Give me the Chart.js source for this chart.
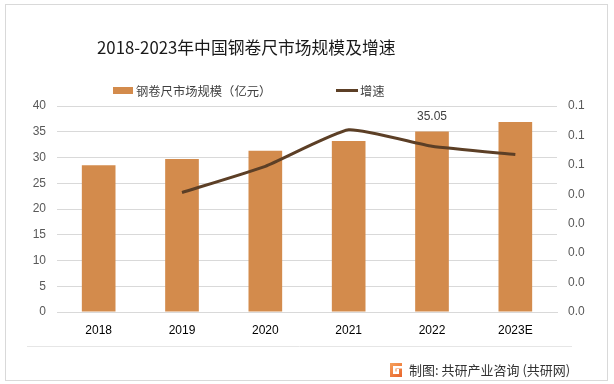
<!DOCTYPE html>
<html>
<head>
<meta charset="utf-8">
<script src="https://cdn.jsdelivr.net/npm/chart.js@4.4.1/dist/chart.umd.min.js"></script>
<style>
html,body{margin:0;padding:0;background:#fff;}
#wrap{position:relative;width:614px;height:384px;}
</style>
</head>
<body>
<div id="wrap"><canvas id="c" width="614" height="384"></canvas></div>
<script>
const categories = ['2018', '2019', '2020', '2021', '2022', '2023E'];
const marketSize = [28.5, 29.7, 31.3, 33.2, 35.05, 36.9];
const growthRate = [null, 0.0406, 0.0495, 0.0619, 0.0563, 0.0535];
const leftTicks = [0, 5, 10, 15, 20, 25, 30, 35, 40];
const rightTicks = [0, 0.01, 0.02, 0.03, 0.04, 0.05, 0.06, 0.07];
const seriesNames = ['钢卷尺市场规模（亿元）', '增速'];
const titleText = '2018-2023年中国钢卷尺市场规模及增速';
const footerText = '制图: 共研产业咨询 (共研网)';

const BAR = '#D38B4C';
const LINE = '#5C3F26';
const NUMFONT = '"Liberation Sans", Arial, sans-serif';
const CJK = '"Noto Sans CJK SC", "Noto Sans", sans-serif';

const decor = {
  id: 'decor',
  beforeDraw(chart) {
    const ctx = chart.ctx;
    ctx.save();
    ctx.fillStyle = '#fff';
    ctx.fillRect(0, 0, 614, 384);
    ctx.strokeStyle = '#D9D9D9';
    ctx.lineWidth = 1;
    ctx.strokeRect(5.5, 4.5, 602, 376);
    ctx.beginPath();
    ctx.moveTo(27, 346.5);
    ctx.lineTo(572, 346.5);
    ctx.strokeStyle = '#E6E6E6';
    ctx.stroke();
    ctx.restore();
  },
  afterDraw(chart) {
    const ctx = chart.ctx;
    ctx.save();
    // title
    ctx.fillStyle = '#1a1a1a';
    ctx.font = '16.8px ' + CJK;
    ctx.textBaseline = 'middle';
    ctx.textAlign = 'left';
    ctx.fillText(titleText, 97, 48);
    // legend
    ctx.font = '12.3px ' + CJK;
    ctx.fillStyle = BAR;
    ctx.fillRect(113, 87, 20, 7);
    ctx.fillStyle = '#404040';
    ctx.fillText(seriesNames[0], 136, 91);
    ctx.strokeStyle = LINE;
    ctx.lineWidth = 3;
    ctx.beginPath();
    ctx.moveTo(336, 90.5);
    ctx.lineTo(358, 90.5);
    ctx.stroke();
    ctx.fillText(seriesNames[1], 360, 91);
    // data label
    const xs = chart.scales.x, yl = chart.scales.y;
    ctx.font = '12px ' + NUMFONT;
    ctx.textAlign = 'center';
    ctx.fillStyle = '#404040';
    ctx.fillText(marketSize[4].toFixed(2), xs.getPixelForValue(4), yl.getPixelForValue(marketSize[4]) - 15);
    // footer logo
    const g = ctx.createLinearGradient(390, 362, 402, 378);
    g.addColorStop(0, '#F7A35C');
    g.addColorStop(1, '#E8622A');
    ctx.fillStyle = g;
    ctx.fillRect(390, 363, 12, 14);
    ctx.fillStyle = '#fff';
    ctx.fillRect(393, 366, 9, 2.5);
    ctx.fillRect(393, 366, 2.5, 8);
    ctx.fillRect(393, 371.5, 6, 2.5);
    ctx.fillRect(396.5, 369, 2.5, 5);
    // footer text
    ctx.font = '13px ' + CJK;
    ctx.fillStyle = '#333';
    ctx.textAlign = 'left';
    ctx.fillText(footerText, 409, 370);
    ctx.restore();
  }
};

new Chart(document.getElementById('c'), {
  data: {
    labels: categories,
    datasets: [
      {
        type: 'line',
        label: seriesNames[1],
        data: growthRate,
        yAxisID: 'y1',
        borderColor: LINE,
        backgroundColor: LINE,
        borderWidth: 3,
        pointRadius: 0,
        tension: 0.15,
        order: 0
      },
      {
        type: 'bar',
        label: seriesNames[0],
        data: marketSize,
        yAxisID: 'y',
        backgroundColor: BAR,
        categoryPercentage: 1,
        barPercentage: 0.404,
        order: 1
      }
    ]
  },
  options: {
    responsive: false,
    animation: false,
    layout: { padding: { top: 106, bottom: 0, left: 0, right: 0 } },
    plugins: {
      legend: { display: false },
      title: { display: false },
      tooltip: { enabled: false }
    },
    scales: {
      x: {
        grid: { display: false, drawTicks: false },
        border: { display: true, color: '#D9D9D9' },
        ticks: { color: '#000', font: { family: NUMFONT, size: 12 }, padding: 11, maxRotation: 0 },
        afterFit(s) { s.height = 72; }
      },
      y: {
        position: 'left',
        min: 0, max: 40,
        afterBuildTicks(s) { s.ticks = leftTicks.map(v => ({ value: v })); },
        grid: { color: '#D9D9D9', drawTicks: false },
        border: { display: false },
        ticks: { color: '#595959', font: { family: NUMFONT, size: 12 }, padding: 11 },
        afterFit(s) { s.width = 57; }
      },
      y1: {
        position: 'right',
        min: 0, max: 0.07,
        afterBuildTicks(s) { s.ticks = rightTicks.map(v => ({ value: v })); },
        grid: { display: false, drawTicks: false },
        border: { display: false },
        ticks: {
          color: '#595959', font: { family: NUMFONT, size: 12 }, padding: 11,
          callback(v) { return (Math.round(v * 10 + 1e-9) / 10).toFixed(1); }
        },
        afterFit(s) { s.width = 57; }
      }
    }
  },
  plugins: [decor]
});
</script>
</body>
</html>
